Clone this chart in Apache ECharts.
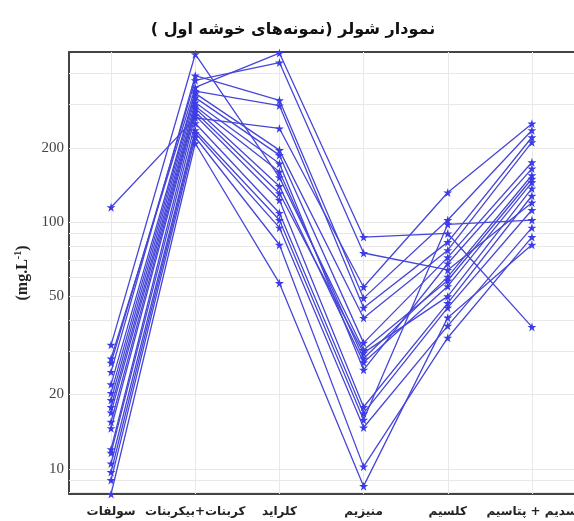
<!DOCTYPE html>
<html>
<head>
<meta charset="utf-8">
<script src="https://cdn.jsdelivr.net/npm/echarts@6/dist/echarts.min.js"></script>
<style>html,body{margin:0;padding:0;background:#fff;}#c{width:574px;height:521px;}</style>
</head>
<body>
<div id="c"></div>
<script>
const categories = ['سولفات', 'کربنات+بیکربنات', 'کلراید', 'منیزیم', 'کلسیم', 'سدیم + پتاسیم'];
const yLabelValues = [10, 20, 50, 100, 200];
const yGridValues = [8, 9, 10, 20, 30, 40, 50, 60, 70, 80, 90, 100, 200, 300, 400];
// each sample: [sulfate, carbonate+bicarbonate, chloride, magnesium, calcium, sodium+potassium]
const s01 = [31.8, 480, 152, 30.3, 58, 150];
const s02 = [115, 265, 240, 54.6, 132, 251];
const s03 = [28, 352, 485, 87, 90, 37.6];
const s04 = [26.9, 376, 444, 75, 64, 120];
const s05 = [24.7, 393, 312, 49.2, 102, 236];
const s06 = [22, 340, 297, 45, 83, 221];
const s07 = [20.3, 333, 196, 40.9, 77, 211];
const s08 = [19, 320, 187, 32.4, 72, 175];
const s09 = [17.8, 306, 173, 25.2, 68, 165];
const s10 = [16.9, 295, 160, 28, 60, 155];
const s11 = [15.5, 289, 140, 27, 55, 145];
const s12 = [14.6, 280, 131, 29.5, 50, 137];
const s13 = [12, 271, 123, 17.8, 47, 128];
const s14 = [11.6, 252, 109, 16.8, 45, 112];
const s15 = [10.5, 236, 102, 15.8, 98, 102];
const s16 = [9.7, 230, 95, 14.7, 38, 95];
const s17 = [9.0, 221, 81, 10.2, 34, 87];
const s18 = [7.9, 209, 56.6, 8.5, 41, 81];
const samples = [s01, s02, s03, s04, s05, s06, s07, s08, s09, s10, s11, s12, s13, s14, s15, s16, s17, s18];

const star = 'path://M50,0 L61,35 L98,35 L68,57 L79,91 L50,70 L21,91 L32,57 L2,35 L39,35 Z';

const chart = echarts.init(document.getElementById('c'), null, {renderer: 'canvas'});
chart.setOption({
  animation: false,
  backgroundColor: '#fff',
  title: {
    text: '\u200F' + 'نمودار شولر (نمونه‌های خوشه اول )' + '\u200F',
    left: 288, top: 17, textAlign: 'center',
    textStyle: {fontFamily: 'DejaVu Sans', fontWeight: 'bold', fontSize: 16, color: '#111'}
  },
  grid: {left: 69, right: 0, top: 52, bottom: 27, containLabel: false, outerBoundsMode: 'none'},
  xAxis: [{
    type: 'category', data: categories, boundaryGap: true,
    axisLine: {show: true, lineStyle: {color: '#444', width: 2}},
    axisTick: {show: true, alignWithLabel: true, inside: true, length: 442, interval: 0,
      lineStyle: {color: '#e8e8e8', width: 1}},
    axisLabel: {interval: 0, margin: 12, fontFamily: 'DejaVu Sans', fontWeight: 'bold', fontSize: 12, color: '#222'},
    splitLine: {show: false}
  }, {
    type: 'category', data: categories, position: 'top', boundaryGap: true,
    axisLine: {show: true, lineStyle: {color: '#444', width: 2}},
    axisTick: {show: false}, axisLabel: {show: false}, splitLine: {show: false}
  }],
  yAxis: {
    type: 'log', logBase: 10, min: 7.9, max: 490,
    name: '(mg.L{sup|-1})', nameLocation: 'middle', nameGap: 32, nameRotate: 90,
    nameTextStyle: {fontFamily: 'Liberation Serif', fontWeight: 'bold', fontSize: 16, color: '#222',
      rich: {sup: {fontFamily: 'Liberation Serif', fontWeight: 'bold', fontSize: 10, verticalAlign: 'top', padding: [0, 0, 8, 0], color: '#222'}}},
    axisLine: {show: true, lineStyle: {color: '#444', width: 2}},
    axisTick: {show: true, inside: true, length: 505, customValues: yGridValues,
      lineStyle: {color: '#e8e8e8', width: 1}},
    axisLabel: {customValues: yLabelValues, margin: 5, fontFamily: 'Liberation Serif', fontSize: 15, color: '#444'},
    splitLine: {show: false},
    minorSplitLine: {show: false}
  },
  series: samples.map((d, i) => ({
    type: 'line', name: 'S' + (i + 1), data: d,
    symbol: star, symbolSize: 9, showSymbol: true,
    itemStyle: {color: '#3b3be8'},
    lineStyle: {color: '#4646d8', width: 1.3},
    z: 2
  }))
});
</script>
</body>
</html>
